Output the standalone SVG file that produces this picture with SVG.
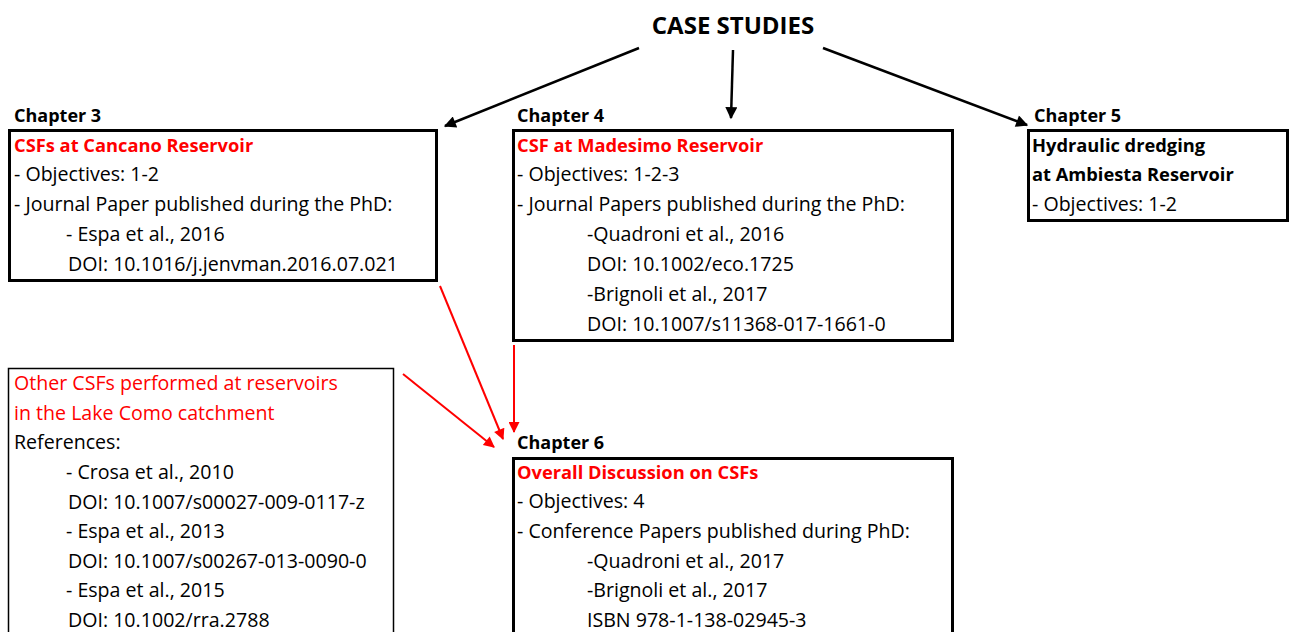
<svg xmlns="http://www.w3.org/2000/svg" width="1290" height="632" viewBox="0 0 1290 632">
<defs>
<style>
text{font-family:"Open Sans","Noto Sans","Liberation Sans",sans-serif;font-size:19.6px;fill:#000}
.b{font-weight:bold;font-size:18.3px}
.r{fill:#ff0000}
.h{font-size:18px;font-weight:bold}
.box{fill:#fff;stroke:#000;stroke-width:3}
.thin{fill:#fff;stroke:#000;stroke-width:1.5}
.ka{stroke:#000;stroke-width:2.5;fill:none;marker-end:url(#ak)}
.ra{stroke:#ff0000;stroke-width:2;fill:none;marker-end:url(#ar)}
</style>
<marker id="ak" viewBox="0 0 10 10" refX="9" refY="5" markerWidth="14" markerHeight="12" markerUnits="userSpaceOnUse" orient="auto"><path d="M0,0 L10,5 L0,10 z" fill="#000"/></marker>
<marker id="ar" viewBox="0 0 10 10" refX="9" refY="5" markerWidth="13" markerHeight="11" markerUnits="userSpaceOnUse" orient="auto"><path d="M0,0 L10,5 L0,10 z" fill="#ff0000"/></marker>
</defs>
<rect width="1290" height="632" fill="#fff"/>
<g id="title"><text x="733" y="34" text-anchor="middle" class="b" style="font-size:24px">CASE STUDIES</text></g>
<g id="connectors">
<line class="ka" x1="639" y1="48" x2="445" y2="126"/>
<line class="ka" x1="733" y1="50" x2="731" y2="118"/>
<line class="ka" x1="823" y1="48" x2="1027" y2="125"/>
<line class="ra" x1="440" y1="286" x2="503" y2="439"/>
<line class="ra" x1="514" y1="345" x2="514" y2="432"/>
<line class="ra" x1="403" y1="374" x2="494" y2="447"/>
</g>
<g id="ch3">
<text x="14" y="122" class="h">Chapter 3</text>
<rect class="box" x="9.5" y="130.5" width="427" height="150"/>
<text x="14" y="152" class="b r">CSFs at Cancano Reservoir</text>
<text x="14" y="181">- Objectives: 1-2</text>
<text x="14" y="211">- Journal Paper published during the PhD:</text>
<text x="66" y="241">- Espa et al., 2016</text>
<text x="68" y="271">DOI: 10.1016/j.jenvman.2016.07.021</text>
</g>
<g id="ch4">
<text x="517" y="122" class="h">Chapter 4</text>
<rect class="box" x="513.5" y="130.5" width="439" height="210"/>
<text x="517" y="152" class="b r">CSF at Madesimo Reservoir</text>
<text x="517" y="181">- Objectives: 1-2-3</text>
<text x="517" y="211">- Journal Papers published during the PhD:</text>
<text x="587" y="241">-Quadroni et al., 2016</text>
<text x="587" y="271">DOI: 10.1002/eco.1725</text>
<text x="587" y="301">-Brignoli et al., 2017</text>
<text x="587" y="331">DOI: 10.1007/s11368-017-1661-0</text>
</g>
<g id="ch5">
<text x="1034" y="122" class="h">Chapter 5</text>
<rect class="box" x="1028.5" y="130.5" width="259" height="90"/>
<text x="1032" y="152" class="b">Hydraulic dredging</text>
<text x="1032" y="181" class="b">at Ambiesta Reservoir</text>
<text x="1032" y="211">- Objectives: 1-2</text>
</g>
<g id="other">
<rect class="thin" x="8.5" y="368.5" width="385" height="280"/>
<text x="14" y="390" class="r">Other CSFs performed at reservoirs</text>
<text x="14" y="420" class="r">in the Lake Como catchment</text>
<text x="14" y="449">References:</text>
<text x="66" y="479">- Crosa et al., 2010</text>
<text x="68" y="509">DOI: 10.1007/s00027-009-0117-z</text>
<text x="66" y="538">- Espa et al., 2013</text>
<text x="68" y="568">DOI: 10.1007/s00267-013-0090-0</text>
<text x="66" y="597">- Espa et al., 2015</text>
<text x="68" y="627">DOI: 10.1002/rra.2788</text>
</g>
<g id="ch6">
<text x="517" y="449" class="h">Chapter 6</text>
<rect class="box" x="513.5" y="458.5" width="439" height="200"/>
<text x="517" y="479" class="b r">Overall Discussion on CSFs</text>
<text x="517" y="508">- Objectives: 4</text>
<text x="517" y="538">- Conference Papers published during PhD:</text>
<text x="587" y="568">-Quadroni et al., 2017</text>
<text x="587" y="597">-Brignoli et al., 2017</text>
<text x="587" y="627">ISBN 978-1-138-02945-3</text>
</g>
</svg>
